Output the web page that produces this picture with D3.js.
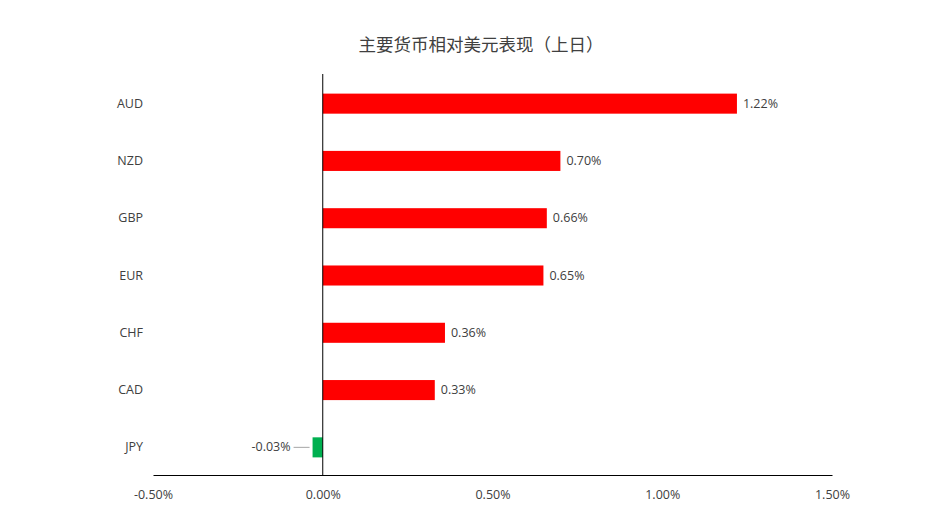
<!DOCTYPE html>
<html><head><meta charset="utf-8">
<script src="https://cdn.jsdelivr.net/npm/d3@7"></script>
<style>body{margin:0;background:#fff;font-family:"Noto Sans CJK SC","Open Sans",sans-serif}</style>
</head><body>
<svg id="c" width="936" height="532"></svg>
<script>
const categories = ["AUD","NZD","GBP","EUR","CHF","CAD","JPY"];
const values = [1.22,0.70,0.66,0.65,0.36,0.33,-0.03];
const xTicks = [-0.5,0,0.5,1.0,1.5];
const title = "主要货币相对美元表现（上日）";

const svg = d3.select("#c");
const x = d3.scaleLinear().domain([-0.5,1.5]).range([153,832]);
const y = d3.scaleBand().domain(categories).range([75,476]).paddingInner(0.65).paddingOuter(0.325);

svg.append("text").attr("x",481).attr("y",51).attr("text-anchor","middle")
  .attr("font-size",17.5).attr("fill","#404040").text(title);

svg.append("g").selectAll("rect").data(values).join("rect")
  .attr("x",d=>x(Math.min(0,d))).attr("width",d=>Math.abs(x(d)-x(0)))
  .attr("y",(d,i)=>y(categories[i])).attr("height",y.bandwidth())
  .attr("fill",d=>d>=0?"#ff0000":"#00b050");

svg.append("g").selectAll("text").data(values).join("text")
  .attr("x",d=>d>=0?x(d)+6:x(d)-22)
  .attr("y",(d,i)=>y(categories[i])+y.bandwidth()/2+4)
  .attr("text-anchor",d=>d>=0?"start":"end")
  .attr("font-size",12.5).attr("fill","#404040").attr("font-family","Open Sans,sans-serif")
  .text(d=>d.toFixed(2)+"%");
values.forEach((d,i)=>{ if(d<0){ svg.append("line").attr("x1",x(d)-19).attr("x2",x(d)-3)
  .attr("y1",y(categories[i])+y.bandwidth()/2).attr("y2",y(categories[i])+y.bandwidth()/2)
  .attr("stroke","#a6a6a6");}});

svg.append("g").selectAll("text").data(categories).join("text")
  .attr("x",143).attr("y",c=>y(c)+y.bandwidth()/2+4).attr("text-anchor","end")
  .attr("font-size",12.5).attr("fill","#404040").attr("font-family","Open Sans,sans-serif").text(c=>c);

const xa = svg.append("g").attr("transform","translate(0,475)")
  .call(d3.axisBottom(x).tickValues(xTicks).tickSize(0).tickFormat(d=>d.toFixed(2)+"%"));
xa.select(".domain").attr("stroke","#000");
xa.selectAll("text").attr("font-size",12.5).attr("fill","#404040").attr("dy","1.65em").attr("font-family","Open Sans,sans-serif");
svg.append("line").attr("x1",x(0)).attr("x2",x(0)).attr("y1",74).attr("y2",475).attr("stroke","#000");
</script>
</body></html>
